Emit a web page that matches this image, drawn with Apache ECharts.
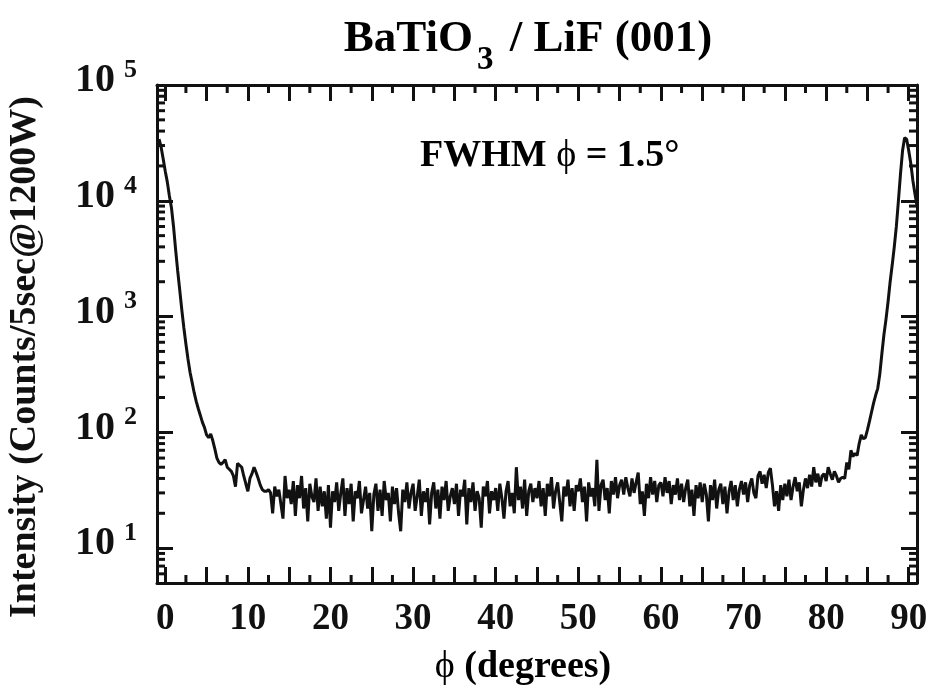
<!DOCTYPE html>
<html>
<head>
<meta charset="utf-8">
<script src="https://cdn.jsdelivr.net/npm/echarts@6/dist/echarts.min.js"></script>
<style>
  html, body { margin: 0; padding: 0; background: #fff; }
  #chart { width: 931px; height: 693px; }
</style>
</head>
<body>
<div id="chart"></div>
<script>
// Phi scan: uniform step, intensity in counts per 5 s at 1200 W
const phiStart = -0.75;
const phiStep = 0.25;

// -0.75 .. 14.75 deg : first (001) peak and its tail
const intensityLeft = [
  34000, 29000, 23000, 18000, 14500, 11000, 8700, 6000, 3800, 2500,
  1700, 1150, 800, 580, 430, 330, 270, 220, 185, 160,
  140, 122, 110, 95, 90, 97, 85, 72, 60, 55,
  53, 55, 58, 50, 48, 46, 42, 34, 54, 52,
  50, 42, 36, 31, 40, 44, 50, 45, 40, 35,
  32, 31, 31, 32, 30, 20, 34, 28, 32, 24,
  18, 42, 27
];

// 15.0 .. 79.75 deg : background, one row per 5 deg
const intensityBackground = [
  32, 24, 38, 19, 35, 27, 42, 22, 33, 17, 36, 28, 25, 40, 21, 34, 23, 31, 18, 35,
  15, 31, 25, 37, 21, 30, 40, 19, 33, 24, 36, 17, 31, 27, 38, 20, 26, 34, 22, 30,
  14, 29, 36, 21, 32, 19, 38, 26, 30, 17, 34, 24, 33, 20, 14, 32, 25, 37, 22, 30,
  36, 21, 28, 39, 19, 31, 25, 33, 16, 30, 37, 22, 32, 18, 34, 26, 38, 21, 28, 33,
  24, 36, 19, 32, 28, 39, 16, 33, 25, 37, 21, 31, 27, 15, 34, 28, 38, 20, 31, 26,
  33, 21, 36, 27, 18, 31, 38, 23, 30, 20, 50, 26, 34, 22, 39, 19, 31, 36, 25, 33,
  27, 38, 23, 33, 19, 36, 28, 41, 22, 31, 37, 25, 17, 34, 28, 39, 23, 33, 21, 35,
  31, 40, 25, 34, 17, 37, 28, 33, 23, 58, 21, 35, 39, 26, 33, 20, 38, 29, 41, 27,
  35, 39, 29, 41, 33, 28, 40, 30, 37, 45, 24, 31, 19, 36, 27, 41, 29, 38, 25, 35,
  37, 28, 41, 30, 38, 24, 35, 29, 40, 26, 36, 25, 33, 39, 23, 32, 19, 35, 27, 37,
  25, 36, 29, 17, 35, 26, 39, 22, 32, 36, 24, 34, 20, 31, 38, 26, 35, 23, 32, 38,
  29, 37, 25, 35, 40, 30, 27, 42, 46, 36, 43, 33, 45, 49, 35, 23, 31, 21, 35, 26,
  36, 28, 39, 26, 34, 41, 31, 37, 23, 32, 40, 33, 43, 34, 50, 37, 44, 34, 42, 44
];

// 80.0 .. 91.0 deg : rise into the second peak
const intensityRight = [
  38, 50, 44, 39, 46, 42, 37, 40, 41, 40,
  55, 48, 70, 62, 66, 63, 80, 95, 88, 90,
  105, 125, 150, 180, 210, 240, 320, 480, 700, 950,
  1350, 2000, 2800, 4000, 6000, 10000, 17000, 27000, 35000, 34000,
  27000, 21000, 15000, 11500, 9000
];

const xLabelValues = [0, 10, 20, 30, 40, 50, 60, 70, 80, 90];
const xMajorTicks = [0, 5, 10, 15, 20, 25, 30, 35, 40, 45, 50, 55, 60, 65, 70, 75, 80, 85, 90];
const xMinorTicks = [2.5, 7.5, 12.5, 17.5, 22.5, 27.5, 32.5, 37.5, 42.5, 47.5,
                     52.5, 57.5, 62.5, 67.5, 72.5, 77.5, 82.5, 87.5];
const yMinorTicks = [6, 7, 8, 9,
                     20, 30, 40, 50, 60, 70, 80, 90,
                     200, 300, 400, 500, 600, 700, 800, 900,
                     2000, 3000, 4000, 5000, 6000, 7000, 8000, 9000,
                     20000, 30000, 40000, 50000, 60000, 70000, 80000, 90000];

const X_MIN = -1, X_MAX = 91, Y_MIN = 5, Y_MAX = 100000;

const intensity = intensityLeft.concat(intensityBackground, intensityRight);
const scan = intensity.map((v, i) => [phiStart + i * phiStep, v]);

// minor tick marks: [x, y, kind] kind 0 = x minor, 1 = y minor
const minorTickData = xMinorTicks.map(v => [v, Y_MIN, 0])
  .concat(yMinorTicks.map(v => [X_MIN, v, 1]));

const SERIF = '"Liberation Serif", "Times New Roman", serif';
const INK = '#111';
const MAJOR_LEN = 16, MINOR_LEN = 8, FRAME_W = 3;

const chart = echarts.init(document.getElementById('chart'), null, { renderer: 'canvas' });

const axisLineStyle = { show: true, onZero: false, lineStyle: { color: INK, width: FRAME_W } };

const option = {
  backgroundColor: '#fff',
  animation: false,
  grid: { left: 157, right: 14, top: 85, bottom: 110, outerBoundsMode: 'none' },
  xAxis: [
    {
      type: 'value', position: 'bottom', min: X_MIN, max: X_MAX,
      axisLine: axisLineStyle,
      splitLine: { show: false },
      axisTick: { show: true, inside: true, length: MAJOR_LEN, customValues: xMajorTicks,
                  lineStyle: { color: INK, width: 3 } },
      axisLabel: { show: true, customValues: xLabelValues, margin: 18,
                   fontFamily: SERIF, fontWeight: 'bold', fontSize: 37, color: INK }
    },
    {
      type: 'value', position: 'top', min: X_MIN, max: X_MAX,
      axisLine: axisLineStyle,
      splitLine: { show: false },
      axisTick: { show: true, inside: true, length: MAJOR_LEN, customValues: xMajorTicks,
                  lineStyle: { color: INK, width: 3 } },
      axisLabel: { show: false }
    }
  ],
  yAxis: [
    {
      type: 'log', logBase: 10, position: 'left', min: Y_MIN, max: Y_MAX,
      axisLine: axisLineStyle,
      splitLine: { show: false },
      axisTick: { show: true, inside: true, length: MAJOR_LEN, lineStyle: { color: INK, width: 3 } },
      axisLabel: {
        show: true, margin: 20,
        formatter: function (v) {
          const e = Math.round(Math.log10(v));
          if (Math.abs(Math.pow(10, e) - v) > 1e-6 * v) return '';
          return '{b|10}{s|' + e + '}';
        },
        rich: {
          b: { fontFamily: SERIF, fontWeight: 'bold', fontSize: 40, color: INK, padding: [0, 0, 8, 0] },
          s: { fontFamily: SERIF, fontWeight: 'bold', fontSize: 26, color: INK, padding: [0, 0, 30, 9] }
        }
      }
    },
    {
      type: 'log', logBase: 10, position: 'right', min: Y_MIN, max: Y_MAX,
      axisLine: axisLineStyle,
      splitLine: { show: false },
      axisTick: { show: true, inside: true, length: MAJOR_LEN, lineStyle: { color: INK, width: 3 } },
      axisLabel: { show: false }
    }
  ],
  series: [
    {
      type: 'line',
      xAxisIndex: 0, yAxisIndex: 0,
      data: scan,
      showSymbol: false,
      symbol: 'none',
      lineStyle: { color: INK, width: 3 },
      clip: true,
      z: 3
    },
    {
      type: 'custom',
      xAxisIndex: 0, yAxisIndex: 0,
      data: minorTickData,
      clip: false,
      silent: true,
      z: 4,
      renderItem: function (params, api) {
        const kind = api.value(2);
        const st = { stroke: INK, lineWidth: 3 };
        if (kind === 0) {
          const b = api.coord([api.value(0), Y_MIN]);
          const t = api.coord([api.value(0), Y_MAX]);
          return { type: 'group', children: [
            { type: 'line', shape: { x1: b[0], y1: b[1], x2: b[0], y2: b[1] - MINOR_LEN }, style: st },
            { type: 'line', shape: { x1: t[0], y1: t[1], x2: t[0], y2: t[1] + MINOR_LEN }, style: st }
          ] };
        }
        const l = api.coord([X_MIN, api.value(1)]);
        const r = api.coord([X_MAX, api.value(1)]);
        return { type: 'group', children: [
          { type: 'line', shape: { x1: l[0], y1: l[1], x2: l[0] + MINOR_LEN, y2: l[1] }, style: st },
          { type: 'line', shape: { x1: r[0], y1: r[1], x2: r[0] - MINOR_LEN, y2: r[1] }, style: st }
        ] };
      }
    }
  ],
  graphic: [
    {
      type: 'text', x: 528, y: 2,
      style: {
        text: '{t|BaTiO}{sub|3}{t| / LiF (001)}',
        align: 'center', verticalAlign: 'top',
        rich: {
          t: { fontFamily: SERIF, fontWeight: 'bold', fontSize: 45, color: INK },
          sub: { fontFamily: SERIF, fontWeight: 'bold', fontSize: 33, color: INK, padding: [42, 5, 0, 4] }
        }
      }
    },
    {
      type: 'text', x: 420, y: 156,
      style: {
        text: '{n|FWHM }{p|ϕ}{n| = 1.5°}',
        align: 'left', verticalAlign: 'middle',
        rich: {
          n: { fontFamily: SERIF, fontWeight: 'bold', fontSize: 38, color: INK },
          p: { fontFamily: SERIF, fontWeight: 'normal', fontSize: 38, color: INK }
        }
      }
    },
    {
      type: 'text', x: 523, y: 667,
      style: {
        text: '{p|ϕ}{n| (degrees)}',
        align: 'center', verticalAlign: 'middle',
        rich: {
          n: { fontFamily: SERIF, fontWeight: 'bold', fontSize: 38, color: INK },
          p: { fontFamily: SERIF, fontWeight: 'normal', fontSize: 38, color: INK }
        }
      }
    },
    {
      type: 'text', x: 25, y: 357, rotation: Math.PI / 2,
      style: {
        text: 'Intensity (Counts/5sec@1200W)',
        align: 'center', verticalAlign: 'middle',
        fontFamily: SERIF, fontWeight: 'bold', fontSize: 38, fill: INK
      }
    }
  ]
};

chart.setOption(option);
</script>
</body>
</html>
